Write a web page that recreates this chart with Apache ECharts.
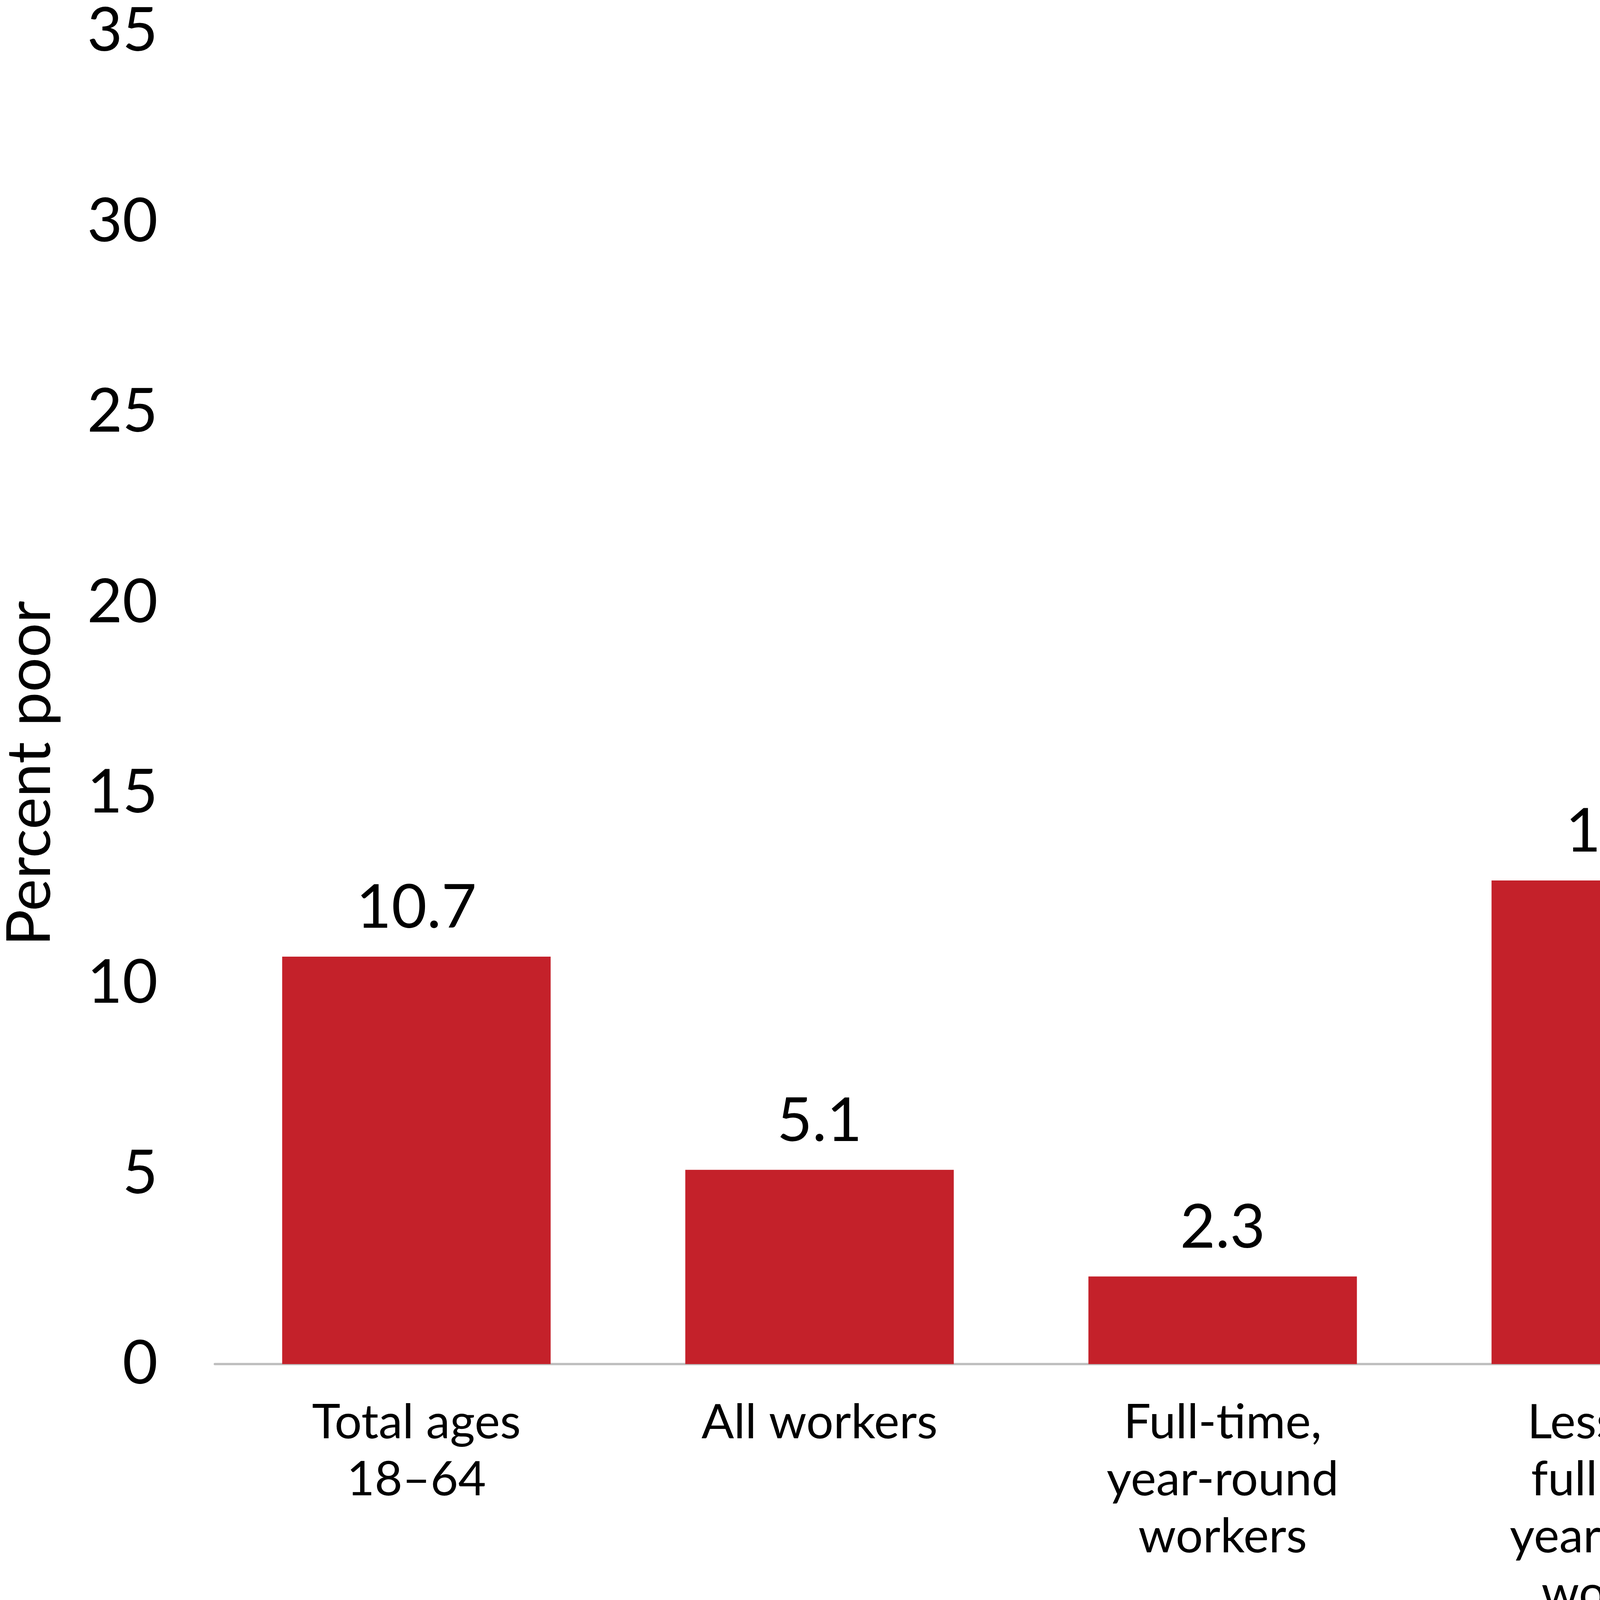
<!DOCTYPE html>
<html>
<head>
<meta charset="utf-8">
<script src="https://cdn.jsdelivr.net/npm/echarts@6/dist/echarts.min.js"></script>
<style>
html,body{margin:0;padding:0;background:#fff;}
#chart{width:5712px;height:4158px;}
</style>
</head>
<body>
<div id="chart"></div>
<script>
const categories = [
  "Total ages\n18–64",
  "All workers",
  "Full-time,\nyear-round\nworkers",
  "Less than\nfull-time,\nyear-round\nworkers",
  "Did not\nwork at least\none week"
];
const percentPoor = [10.7, 5.1, 2.3, 12.7, 29.7];
const yTicks = { min: 0, max: 35, interval: 5 };
const yTitle = "Percent poor";

const chart = echarts.init(document.getElementById('chart'), null, { renderer: 'canvas' });
const FONT = 'Lato';
chart.setOption({
  backgroundColor: '#ffffff',
  animation: false,
  grid: { left: 550, right: 2, top: 80, bottom: 666, containLabel: false },
  xAxis: {
    type: 'category',
    data: categories,
    axisTick: { show: false },
    axisLine: { show: true, lineStyle: { color: '#bfbfbf', width: 6 } },
    axisLabel: {
      interval: 0,
      margin: 77,
      color: '#000',
      fontFamily: FONT,
      fontSize: 123,
      lineHeight: 146,
      align: 'center'
    }
  },
  yAxis: {
    type: 'value',
    min: yTicks.min,
    max: yTicks.max,
    interval: yTicks.interval,
    splitLine: { show: false },
    axisLine: { show: false },
    axisTick: { show: false },
    axisLabel: {
      margin: 146,
      color: '#000',
      fontFamily: FONT,
      fontSize: 156
    }
  },
  graphic: [{
    type: 'text',
    x: 78,
    y: 1980,
    rotation: Math.PI / 2,
    style: {
      text: yTitle,
      fill: '#000',
      font: '156px Lato',
      fontFamily: FONT,
      fontSize: 156,
      align: 'center',
      verticalAlign: 'middle',
      textAlign: 'center',
      textVerticalAlign: 'middle'
    }
  }],
  series: [{
    type: 'bar',
    data: percentPoor,
    barCategoryGap: '33.4%',
    itemStyle: { color: '#C4212A' },
    label: {
      show: true,
      position: 'top',
      distance: 46,
      color: '#000',
      fontFamily: FONT,
      fontSize: 156,
      formatter: p => p.value.toFixed(1)
    }
  }]
});
</script>
</body>
</html>
